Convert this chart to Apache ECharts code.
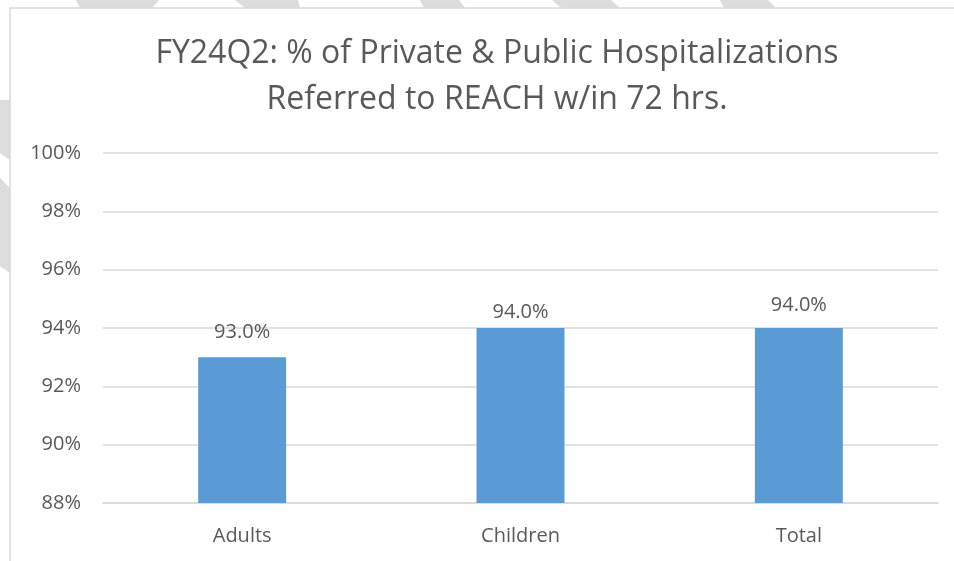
<!DOCTYPE html>
<html>
<head>
<meta charset="utf-8">
<script src="https://cdn.jsdelivr.net/npm/echarts@6/dist/echarts.min.js"></script>
<style>html,body{margin:0;padding:0;background:#fff;}#c{width:954px;height:561px;}</style>
</head>
<body>
<div id="c"></div>
<script>
const titleText = 'FY24Q2: % of Private & Public Hospitalizations\nReferred to REACH w/in 72 hrs.';
const categories = ['Adults', 'Children', 'Total'];
const values = [93.0, 94.0, 94.0];
const yTicks = { min: 88, max: 100, step: 2 };
const labelNudges = [15, 6, 13];

const chart = echarts.init(document.getElementById('c'), null, { renderer: 'canvas' });
const stripe = '#dcdcdc';
const poly = (pts) => ({ type: 'polygon', shape: { points: pts }, style: { fill: stripe }, z: -20, silent: true });

chart.setOption({
  animation: false,
  backgroundColor: '#fff',
  graphic: [
    poly([[76,0],[159,0],[152,8],[80,8]]),
    poly([[235,0],[298,0],[300,8],[245,8]]),
    poly([[420,0],[459,0],[465,8],[424,8]]),
    poly([[552,0],[611,0],[620,8],[561,8]]),
    poly([[720,0],[768,0],[776,8],[724,8]]),
    poly([[0,100],[10,100],[10,160],[0,153]]),
    poly([[0,178],[10,188],[10,273],[0,266]]),
    { type: 'rect', shape: { x: 10, y: 8, width: 960, height: 570 }, style: { fill: '#fff', stroke: '#d9d9d9', lineWidth: 1.5 }, z: -10, silent: true }
  ],
  title: {
    text: titleText,
    left: 492,
    top: 26,
    textAlign: 'center',
    textStyle: { fontFamily: 'Open Sans', fontSize: 32, fontWeight: 'normal', color: '#595959', lineHeight: 46 }
  },
  grid: { left: 103, right: 16, top: 153, bottom: 58, containLabel: false },
  xAxis: {
    type: 'category',
    data: categories,
    axisLine: { show: true, lineStyle: { color: '#d9d9d9', width: 1.5 } },
    axisTick: { show: false },
    axisLabel: { color: '#595959', fontSize: 20, fontFamily: 'Open Sans', margin: 23 }
  },
  yAxis: {
    type: 'value',
    min: yTicks.min,
    max: yTicks.max,
    interval: yTicks.step,
    axisLine: { show: false },
    axisTick: { show: false },
    axisLabel: { color: '#595959', fontSize: 20, fontFamily: 'Open Sans', margin: 22, formatter: '{value}%' },
    splitLine: { lineStyle: { color: '#d9d9d9', width: 1.5 } }
  },
  series: [{
    type: 'bar',
    barWidth: '31.6%',
    itemStyle: { color: '#5b9bd5' },
    data: values.map((v, i) => ({
      value: v,
      label: { distance: labelNudges[i] }
    })),
    label: {
      show: true,
      position: 'top',
      color: '#595959',
      fontSize: 20,
      fontFamily: 'Open Sans',
      formatter: (p) => p.value.toFixed(1) + '%'
    },
    z: 3
  }]
});
</script>
</body>
</html>
